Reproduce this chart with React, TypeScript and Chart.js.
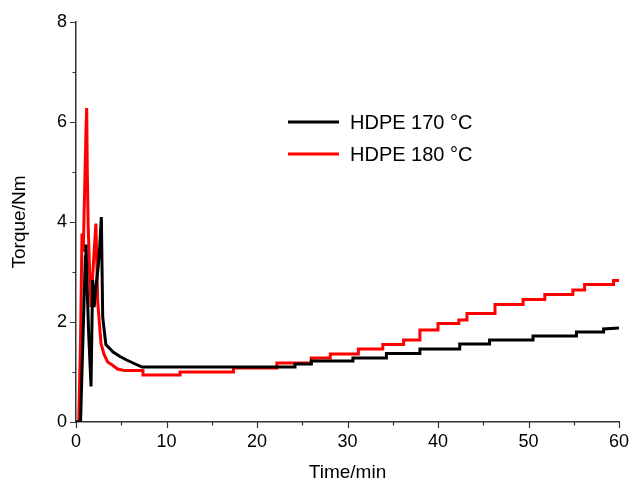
import React, { useEffect, useRef } from 'react';
import { Chart, registerables } from 'chart.js';

Chart.register(...registerables);

// HDPE 170 °C (black)
const blackTime = [
  0, 0.5, 1.03, 1.1, 1.25, 1.4, 1.66, 1.84, 2.0, 2.2, 2.45, 2.62, 2.8, 2.95, 3.3,
  4.1, 4.86, 5.6, 6.3, 7.3, 24.2, 24.2, 26.0, 26.0, 30.6, 30.6, 34.3, 34.3, 38.0, 38.0,
  42.4, 42.4, 45.7, 45.7, 50.5, 50.5, 55.3, 55.3, 58.3, 58.3, 60,
];
const blackTorque = [
  0, 0, 3.3, 3.55, 2.6, 1.77, 0.71, 2.84, 2.3, 2.7, 3.1, 3.5, 4.1, 2.1, 1.55,
  1.4, 1.31, 1.24, 1.18, 1.1, 1.1, 1.16, 1.16, 1.22, 1.22, 1.28, 1.28, 1.37, 1.37, 1.46,
  1.46, 1.56, 1.56, 1.64, 1.64, 1.72, 1.72, 1.8, 1.8, 1.86, 1.88,
];

// HDPE 180 °C (red)
const redTime = [
  0, 0.3, 0.5, 0.66, 0.8, 0.95, 1.1, 1.18, 1.25, 1.35, 1.5, 1.66, 1.8, 2.0, 2.2,
  2.4, 2.76, 3.1, 3.5, 4.0, 4.6, 5.3, 7.4, 7.4, 11.5, 11.5, 17.4, 17.4, 22.2, 22.2,
  26.0, 26.0, 28.1, 28.1, 31.2, 31.2, 33.9, 33.9, 36.2, 36.2, 38.0, 38.0, 40.0, 40.0,
  42.3, 42.3, 43.2, 43.2, 46.3, 46.3, 49.4, 49.4, 51.8, 51.8, 54.9, 54.9, 56.2, 56.2,
  59.4, 59.4, 60,
];
const redTorque = [
  0, 0, 1.6, 3.77, 3.4, 4.6, 5.8, 6.28, 5.0, 3.9, 3.0, 2.3, 2.8, 3.4, 3.97,
  2.4, 1.57, 1.35, 1.2, 1.14, 1.06, 1.03, 1.03, 0.94, 0.94, 1.0, 1.0, 1.08, 1.08, 1.18,
  1.18, 1.28, 1.28, 1.36, 1.36, 1.46, 1.46, 1.55, 1.55, 1.64, 1.64, 1.84, 1.84, 1.97,
  1.97, 2.04, 2.04, 2.17, 2.17, 2.35, 2.35, 2.45, 2.45, 2.55, 2.55, 2.64, 2.64, 2.75,
  2.75, 2.83, 2.83,
];

const seriesLabels = ['HDPE 170 °C', 'HDPE 180 °C'];
const seriesColors = ['#000000', '#ff0000'];

const xMajorTicks = [0, 10, 20, 30, 40, 50, 60];
const xMinorTicks = [5, 15, 25, 35, 45, 55];
const yMajorTicks = [0, 2, 4, 6, 8];
const yMinorTicks = [1, 3, 5, 7];

const FONT = "'Liberation Sans', Arial, Helvetica, sans-serif";

const tickPlugin = {
  id: 'customTicks',
  afterDraw(chart: any) {
    const ctx = chart.ctx;
    const xs = chart.scales.x;
    const ys = chart.scales.y;
    const area = chart.chartArea;
    ctx.save();
    ctx.strokeStyle = '#333';
    ctx.lineWidth = 1.2;
    ctx.beginPath();
    const xt = (v: number, len: number) => {
      const p = Math.round(xs.getPixelForValue(v)) + 0.5;
      ctx.moveTo(p, area.bottom);
      ctx.lineTo(p, area.bottom + len);
    };
    const yt = (v: number, len: number) => {
      const p = Math.round(ys.getPixelForValue(v)) + 0.5;
      ctx.moveTo(area.left, p);
      ctx.lineTo(area.left - len, p);
    };
    xMajorTicks.forEach((v) => xt(v, 6));
    xMinorTicks.forEach((v) => xt(v, 3.5));
    yMajorTicks.forEach((v) => yt(v, 6));
    yMinorTicks.forEach((v) => yt(v, 3.5));
    ctx.stroke();
    ctx.restore();
  },
};

const legendPlugin = {
  id: 'insideLegend',
  afterDraw(chart: any) {
    const ctx = chart.ctx;
    ctx.save();
    const rows = [122, 154];
    seriesLabels.forEach((label, i) => {
      const y = rows[i];
      ctx.strokeStyle = seriesColors[i];
      ctx.lineWidth = 3;
      ctx.beginPath();
      ctx.moveTo(288, y);
      ctx.lineTo(339, y);
      ctx.stroke();
      ctx.fillStyle = '#000';
      ctx.font = `20px ${FONT}`;
      ctx.textBaseline = 'middle';
      ctx.textAlign = 'left';
      ctx.fillText(label, 350, y + 1);
    });
    ctx.restore();
  },
};

export default function App() {
  const canvasRef = useRef<HTMLCanvasElement | null>(null);

  useEffect(() => {
    document.body.style.margin = '0';
    const canvas = canvasRef.current;
    if (!canvas) return;
    const chart = new Chart(canvas, {
      type: 'line',
      data: {
        datasets: [
          {
            label: seriesLabels[0],
            data: blackTime.map((t, i) => ({ x: t, y: blackTorque[i] })),
            borderColor: seriesColors[0],
            backgroundColor: seriesColors[0],
            borderWidth: 3,
            pointRadius: 0,
            tension: 0,
            fill: false,
          },
          {
            label: seriesLabels[1],
            data: redTime.map((t, i) => ({ x: t, y: redTorque[i] })),
            borderColor: seriesColors[1],
            backgroundColor: seriesColors[1],
            borderWidth: 3,
            pointRadius: 0,
            tension: 0,
            fill: false,
          },
        ],
      },
      options: {
        animation: false,
        responsive: true,
        maintainAspectRatio: false,
        layout: { padding: { left: 0, right: 11, top: 22, bottom: 0 } },
        plugins: {
          legend: { display: false },
          tooltip: { enabled: false },
        },
        scales: {
          x: {
            type: 'linear',
            position: 'bottom',
            min: 0,
            max: 60,
            afterBuildTicks: (s: any) => {
              s.ticks = xMajorTicks.map((v) => ({ value: v }));
            },
            afterFit: (s: any) => {
              s.height = 66;
              s.paddingLeft = 0;
              s.paddingRight = 0;
            },
            ticks: {
              color: '#000',
              font: { family: FONT, size: 18 },
              padding: 9,
              maxRotation: 0,
              autoSkip: false,
            },
            grid: { display: false, drawTicks: false },
            border: { display: true, color: '#333', width: 1.5 },
            title: {
              display: true,
              text: 'Time/min',
              color: '#000',
              font: { family: FONT, size: 19 },
              padding: { top: 0, bottom: 4 },
            },
          },
          y: {
            type: 'linear',
            min: 0,
            max: 8,
            afterBuildTicks: (s: any) => {
              s.ticks = yMajorTicks.map((v) => ({ value: v }));
            },
            afterFit: (s: any) => {
              s.width = 76;
              s.paddingTop = 0;
              s.paddingBottom = 0;
            },
            ticks: {
              color: '#000',
              font: { family: FONT, size: 18 },
              padding: 9,
              autoSkip: false,
            },
            grid: { display: false, drawTicks: false },
            border: { display: true, color: '#333', width: 1.5 },
            title: {
              display: true,
              text: 'Torque/Nm',
              color: '#000',
              font: { family: FONT, size: 19 },
              padding: { top: 8, bottom: 0 },
            },
          },
        },
      },
      plugins: [tickPlugin, legendPlugin],
    });
    return () => chart.destroy();
  }, []);

  return (
    <div style={{ position: 'relative', width: 630, height: 488, background: '#fff' }}>
      <canvas ref={canvasRef} />
    </div>
  );
}
